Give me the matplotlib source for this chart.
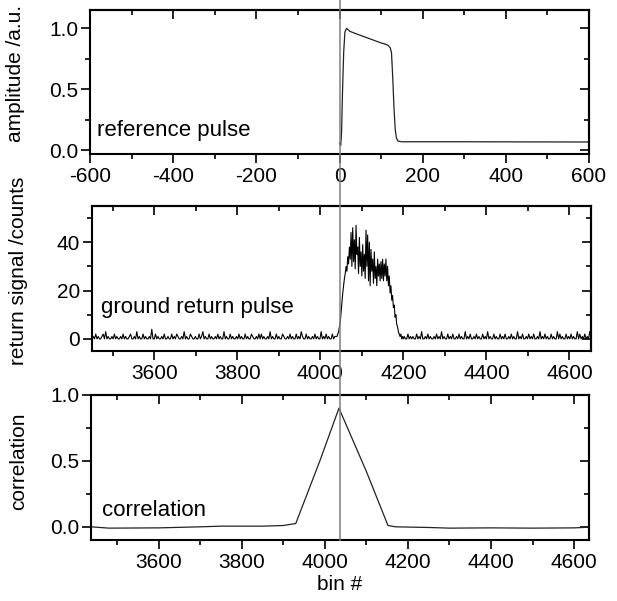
import numpy as np
import matplotlib
matplotlib.use("Agg")
import matplotlib.pyplot as plt
from matplotlib.ticker import MultipleLocator
from matplotlib.lines import Line2D
from matplotlib.transforms import blended_transform_factory

plt.rcParams['font.family'] = ['Liberation Sans', 'DejaVu Sans']
plt.rcParams['axes.unicode_minus'] = False

# ---------------- data ----------------
# reference pulse (bin offset, amplitude)
ref_x = [0, 3, 5, 7, 10, 13, 17, 20, 25, 40, 60, 80, 100, 110, 117, 122, 125, 128, 131, 134, 137, 141, 150, 300, 450, 600]
ref_y = [0.06, 0.04, 0.15, 0.45, 0.80, 0.97, 1.00, 0.99, 0.975, 0.955, 0.93, 0.905, 0.88, 0.87, 0.86, 0.84, 0.80, 0.60, 0.35, 0.17, 0.10, 0.075, 0.07, 0.07, 0.069, 0.068]

# ground return: baseline counts before the pulse (every 3 bins from 3450)
base1_start, base1_step = 3450, 3
base1_counts = ("01020100120301001020" "10010201001200103010" "02010010400201001020"
                "01002010210010301002" "10010020130100201001" "02010030100201001020"
                "10020100210010202010" "01030100201002100102" "01002010310020100102"
                "0100301020100201")
# pulse counts (every 2 bins from 4040)
pulse_start, pulse_step = 4040, 2
pulse_counts = [1, 2, 3, 5, 7, 11, 15, 19, 22, 25, 27, 30, 28, 34, 31, 38, 33, 44, 30, 46,
                32, 41, 29, 47, 35, 38, 27, 42, 30, 36, 26, 39, 28, 35, 25, 45, 30, 43, 24, 40,
                22, 37, 28, 33, 23, 36, 25, 30, 22, 33, 26, 31, 24, 32, 25, 33, 24, 31, 26, 33,
                24, 30, 22, 26, 19, 22, 16, 18, 13, 14, 9, 10, 6, 5, 3, 2, 1, 2, 0, 1, 0]
# baseline counts after the pulse (every 3 bins from 4202)
base2_start, base2_step = 4202, 3
base2_counts = ("10020101002010300102" "01001020103010020102" "00102010030102001020"
                "10020103010020100201" "02001020100301020010" "20102001030102010020"
                "10030201002010201003" "0201020103")

# correlation (bin, value)
corr_x = [3437, 3480, 3600, 3700, 3750, 3850, 3900, 3930, 3988, 4034, 4100, 4152, 4170, 4250, 4300, 4400, 4500, 4600, 4636]
corr_y = [0.0, -0.01, -0.008, 0.0, 0.005, 0.005, 0.01, 0.025, 0.50, 0.90, 0.42, 0.01, 0.0, -0.005, -0.01, -0.008, -0.01, -0.008, -0.003]

alignment_bin = 0  # reference pulse start, marked with vertical line

# --------------- assemble series ---------------
b1 = np.array([int(c) for c in base1_counts])
b1x = base1_start + base1_step * np.arange(len(b1))
p = np.array(pulse_counts)
px = pulse_start + pulse_step * np.arange(len(p))
b2 = np.array([int(c) for c in base2_counts])
b2x = base2_start + base2_step * np.arange(len(b2))
gr_x = np.concatenate([b1x, px, b2x])
gr_y = np.concatenate([b1, p, b2])

# --------------- figure ---------------
W, H = 617, 601
fig = plt.figure(figsize=(W / 100, H / 100), dpi=100)

ax1 = fig.add_axes([0.1459, 0.7438, 0.8087, 0.2396])
ax2 = fig.add_axes([0.1491, 0.4160, 0.8088, 0.2413])
ax3 = fig.add_axes([0.1475, 0.1015, 0.8071, 0.2413])

FS = 15

def style(ax, xmaj, xmin, ymaj, ymin):
    for s in ax.spines.values():
        s.set_linewidth(1.5)
    ax.xaxis.set_major_locator(MultipleLocator(xmaj))
    ax.xaxis.set_minor_locator(MultipleLocator(xmin))
    ax.yaxis.set_major_locator(MultipleLocator(ymaj))
    ax.yaxis.set_minor_locator(MultipleLocator(ymin))
    ax.tick_params(which='both', direction='out', width=1.2, labelsize=FS,
                   top=False, right=False)
    ax.tick_params(which='major', length=6.5)
    ax.tick_params(which='minor', length=3.5)
    ax.tick_params(axis='x', pad=3)
    ax.tick_params(axis='y', pad=2)
    sx = ax.secondary_xaxis('top')
    sx.xaxis.set_major_locator(MultipleLocator(xmaj))
    sx.xaxis.set_minor_locator(MultipleLocator(xmin))
    sx.tick_params(which='both', direction='in', width=1.2, labeltop=False)
    sx.tick_params(which='major', length=6.5)
    sx.tick_params(which='minor', length=3.5)
    sx.spines['top'].set_linewidth(1.5)
    sy = ax.secondary_yaxis('right')
    sy.yaxis.set_major_locator(MultipleLocator(ymaj))
    sy.yaxis.set_minor_locator(MultipleLocator(ymin))
    sy.tick_params(which='both', direction='in', width=1.2, labelright=False)
    sy.tick_params(which='major', length=6.5)
    sy.tick_params(which='minor', length=3.5)
    sy.spines['right'].set_linewidth(1.5)

# top panel
ax1.plot(ref_x, ref_y, color='#222222', lw=0.9)
ax1.set_xlim(-600, 600)
ax1.set_ylim(-0.03, 1.15)
style(ax1, 200, 100, 0.5, 0.25)
ax1.yaxis.set_major_formatter(matplotlib.ticker.FormatStrFormatter('%.1f'))
ax1.set_ylabel('amplitude /a.u.', fontsize=FS)
ax1.yaxis.set_label_coords(-0.130, 0.56)
ax1.text(0.014, 0.125, 'reference pulse', transform=ax1.transAxes, fontsize=16, va='baseline')

# middle panel
ax2.plot(gr_x, gr_y, color='black', lw=0.8)
ax2.set_xlim(3450, 4652)
ax2.set_ylim(-5, 55)
style(ax2, 200, 100, 20, 10)
ax2.set_ylabel('return signal /counts', fontsize=FS)
ax2.yaxis.set_label_coords(-0.128, 0.55)
ax2.text(0.018, 0.264, 'ground return pulse', transform=ax2.transAxes, fontsize=16, va='baseline')

# bottom panel
ax3.plot(corr_x, corr_y, color='#222222', lw=0.9)
ax3.set_xlim(3437, 4636)
ax3.set_ylim(-0.1, 1.0)
style(ax3, 200, 100, 0.5, 0.25)
ax3.yaxis.set_major_formatter(matplotlib.ticker.FormatStrFormatter('%.1f'))
ax3.set_ylabel('correlation', fontsize=FS)
ax3.yaxis.set_label_coords(-0.127, 0.545)
ax3.set_xlabel('bin #', fontsize=FS, labelpad=2)
ax3.text(0.022, 0.166, 'correlation', transform=ax3.transAxes, fontsize=16, va='baseline')

# vertical alignment line across the figure
ax3_bottom = ax3.get_position().y0
tr = blended_transform_factory(ax1.transData, fig.transFigure)
fig.add_artist(Line2D([alignment_bin, alignment_bin], [1.0, ax3_bottom], transform=tr,
                      color='#808080', lw=1.1, zorder=10))

fig.savefig('out.png', dpi=100)
